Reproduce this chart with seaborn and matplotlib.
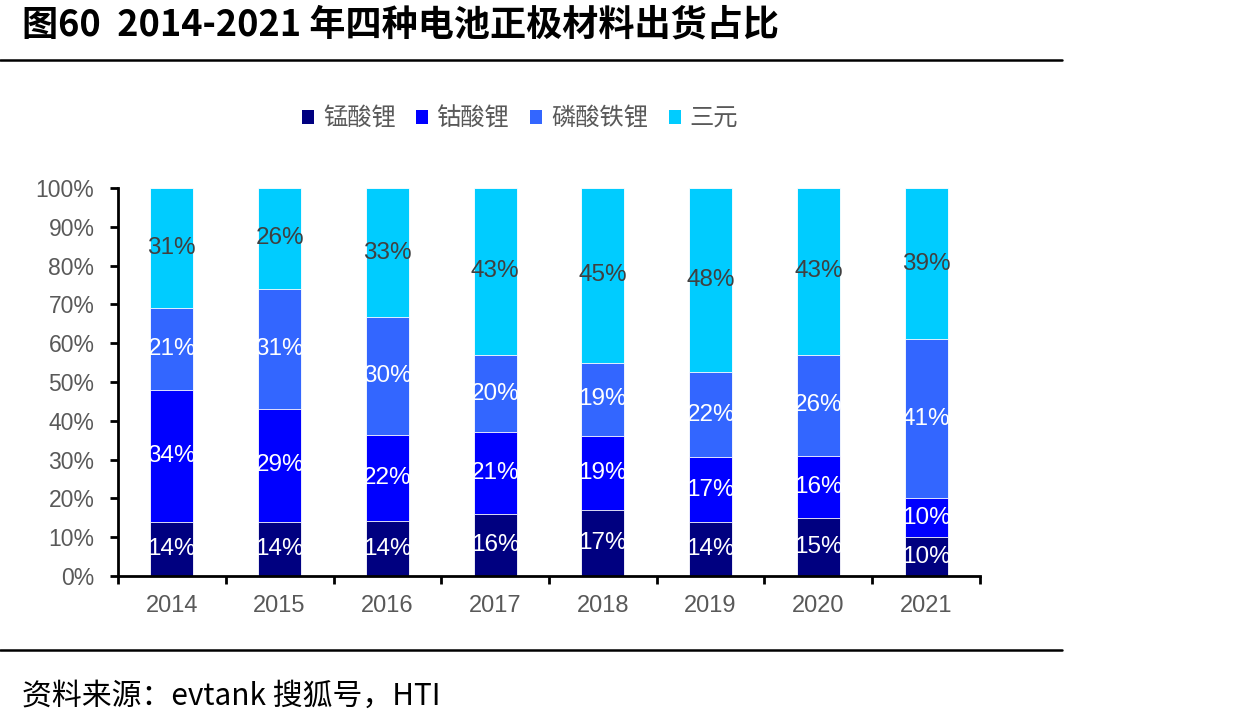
import numpy as np
import pandas as pd
import matplotlib
matplotlib.use("Agg")
import matplotlib.pyplot as plt
import seaborn as sns
from matplotlib.patches import Patch
from matplotlib.lines import Line2D

# ================= DATA =================
years = ["2014", "2015", "2016", "2017", "2018", "2019", "2020", "2021"]
materials = ["锰酸锂", "钴酸锂", "磷酸铁锂", "三元"]
lmo = [14, 14, 14, 16, 17, 14, 15, 10]      # 锰酸锂
lco = [34, 29, 22, 21, 19, 17, 16, 10]      # 钴酸锂
lfp = [21, 31, 30, 20, 19, 22, 26, 41]      # 磷酸铁锂
ncm = [31, 26, 33, 43, 45, 48, 43, 39]      # 三元
colors = ["#000080", "#0000FF", "#3366FF", "#00CCFF"]
label_colors = ["white", "white", "white", "#404040"]

# ================= STYLE =================
sns.set_theme(style="white")
plt.rcParams["font.family"] = ["Liberation Sans", "Noto Sans CJK SC", "DejaVu Sans"]
CJK = ["Noto Sans CJK SC", "DejaVu Sans"]
GRAY = "#595959"

fig = plt.figure(figsize=(12.35, 7.26), dpi=100)
ax = fig.add_axes([118 / 1235, 1 - 576 / 726, 862 / 1235, 388 / 726])

# 100% stacked: normalise each year, then draw cumulative tops (largest first)
raw = np.array([lmo, lco, lfp, ncm], dtype=float)
share = raw / raw.sum(axis=0) * 100
cum = np.cumsum(share, axis=0)

for i in range(len(materials) - 1, -1, -1):
    df = pd.DataFrame({"year": years, "value": cum[i]})
    sns.barplot(data=df, x="year", y="value", color=colors[i], width=0.4,
                edgecolor="white", linewidth=0.6, saturation=1, ax=ax)

# data labels (rounded values as shown in the source)
for i in range(len(materials)):
    bottoms = cum[i] - share[i]
    for j in range(len(years)):
        ax.text(j, bottoms[j] + share[i][j] / 2, f"{raw[i][j]:.0f}%",
                ha="center", va="center", fontsize=17.5, color=label_colors[i])

# ================= AXES =================
ax.set_xlim(-0.5, len(years) - 0.5)
ax.set_ylim(0, 100)
ax.set_yticks(np.arange(0, 101, 10))
ax.set_yticklabels([f"{v}%" for v in range(0, 101, 10)])
ax.set_xlabel("")
ax.set_ylabel("")
ax.tick_params(axis="y", which="major", length=6, width=2, color="black",
               labelsize=16.5, labelcolor=GRAY, pad=11, left=True)
ax.tick_params(axis="x", which="major", length=0, labelsize=17, labelcolor=GRAY, pad=14)
ax.set_xticks(np.arange(-0.5, len(years)), minor=True)
ax.tick_params(axis="x", which="minor", length=6, width=2, color="black", bottom=True)
for side in ["top", "right"]:
    ax.spines[side].set_visible(False)
for side in ["left", "bottom"]:
    ax.spines[side].set_color("black")
    ax.spines[side].set_linewidth(2)
ax.grid(False)

# ================= LEGEND =================
handles = [Patch(facecolor=c, edgecolor="none") for c in colors]
leg = fig.legend(handles, materials, loc="center", bbox_to_anchor=(520 / 1235, 1 - 119 / 726),
                 ncol=4, frameon=False, handlelength=0.5, handleheight=0.5,
                 handletextpad=0.35, columnspacing=0.85, prop={"family": CJK, "size": 17.5})
for t in leg.get_texts():
    t.set_color(GRAY)

# ================= TITLE / FRAME LINES / SOURCE =================
fig.text(22 / 1235, 1 - 25 / 726, "图60  2014-2021 年四种电池正极材料出货占比",
         fontsize=26, fontweight="bold", family=CJK, color="black", ha="left", va="center")
fig.add_artist(Line2D([0, 1062 / 1235], [1 - 60 / 726] * 2, color="black", lw=1.8,
                      transform=fig.transFigure))
fig.add_artist(Line2D([0, 1062 / 1235], [1 - 650 / 726] * 2, color="black", lw=1.8,
                      transform=fig.transFigure))
fig.text(22 / 1235, 1 - 696 / 726, "资料来源：evtank 搜狐号，HTI",
         fontsize=21.5, family=CJK, color="black", ha="left", va="center")

fig.savefig("out.png", dpi=100)
